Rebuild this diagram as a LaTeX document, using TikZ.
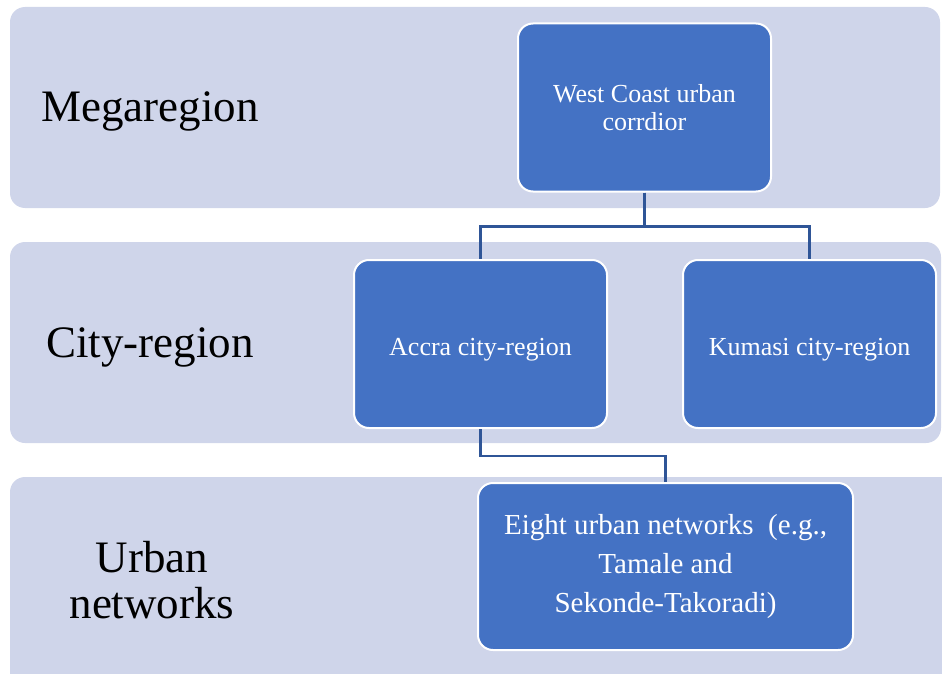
\documentclass[tikz,border=0pt]{standalone}
\usepackage{fontspec}
\setmainfont{Liberation Serif}
\usepackage{tikz}
\usetikzlibrary{positioning}
\definecolor{bandfill}{HTML}{CFD5EA}
\definecolor{unitfill}{HTML}{4472C4}
\definecolor{linkcol}{HTML}{2F5597}

\begin{document}
\begin{tikzpicture}[x = 1pt, y = -1pt, band/.style={fill = bandfill, rounded corners = 15pt},
	unit/.style={rectangle, draw = white, line width = 2pt, fill = unitfill, rounded corners = 15pt, text = white, align = center, font = \fontsize{26}{28}\selectfont, minimum width = 253pt, minimum height = 168pt, inner sep = 0pt},
	level/.style={align = center, font = \fontsize{45}{46}\selectfont, inner sep = 0pt},
	link/.style={draw = linkcol, line width = 2.5pt}]
	
	\useasboundingbox (0,0) rectangle (942,674);
	\clip (0,0) rectangle (942,674);
	
	% bands
	\fill[band] (10,7) rectangle (940,208);
	\fill[band] (10,242) rectangle (941,443);
	\fill[band] (10,477) rectangle (980,700);
	
	\node[level] (mega) at (150,111) {Megaregion};
	\node[level] (city) at (150,347) {City-region};
	\node[level] (urban) at (152,580) {Urban\\networks};
	
	% boxes
	\node[unit] (wc) at (644.5,107.5) {West Coast urban\\corrdior};
	\node[unit] (accra) at (480.5,344) {\raisebox{-3pt}[\height][0pt]{Accra city-region}};
	\node[unit] (kumasi) at (809.5,344) {\raisebox{-3pt}[\height][0pt]{Kumasi city-region}};
	\node[unit, minimum width = 375pt, minimum height = 167pt, font = \fontsize{29}{39}\selectfont] (eight) at (665.5,566.5) {Eight urban networks~~(e.g.,\\Tamale and\\Sekonde-Takoradi)};
	
	% links
	\draw[link] (wc.south) -- ++(0,34) -| (accra.north);
	\draw[link] (wc.south) -- ++(0,34) -| (kumasi.north);
	\draw[link] (accra.south) -- ++(0,27) -| (eight.north);
	
\end{tikzpicture}
\end{document}
